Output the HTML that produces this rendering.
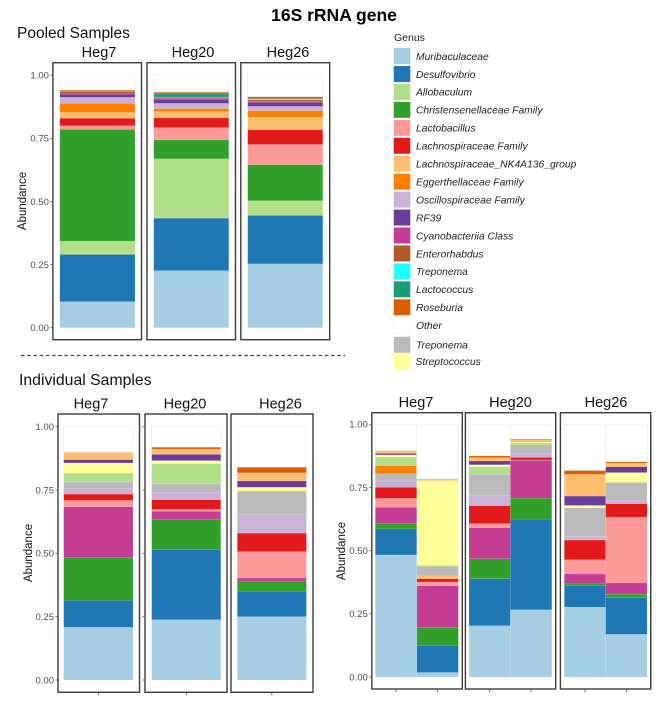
<!DOCTYPE html>
<html lang="en">
<head>
<meta charset="utf-8">
<title>16S rRNA gene</title>
<style>
html,body{margin:0;padding:0;background:#fff;}
svg{display:block;font-family:"Liberation Sans",Arial,sans-serif;filter:blur(0.3px);}
.strip{font-size:14.5px;fill:#111;text-anchor:middle;}
.heading{font-size:15.5px;fill:#111;}
.legend-label{font-size:10.3px;font-style:italic;fill:#222;}
.tick{font-size:9.5px;fill:#4d4d4d;text-anchor:end;}
.axis-title{font-size:11.5px;fill:#111;text-anchor:middle;}
</style>
</head>
<body>
<svg id="chart" xmlns="http://www.w3.org/2000/svg" width="669" height="701" viewBox="0 0 669 701">
  <rect x="0" y="0" width="669" height="701" fill="#fff"/>
  <text x="334" y="21" text-anchor="middle" font-size="17.5" font-weight="700" fill="#000">16S rRNA gene</text>
  <text class="heading" x="17" y="38">Pooled Samples</text>
  <text class="heading" x="19" y="385" style="font-size:15.8px">Individual Samples</text>
  <line x1="21" y1="355.5" x2="345" y2="355.5" stroke="#444" stroke-width="1.2" stroke-dasharray="3.6 2.6"/>
  <text class="axis-title" transform="translate(26,201) rotate(-90)">Abundance</text>
  <text class="axis-title" transform="translate(32,553) rotate(-90)">Abundance</text>
  <text class="axis-title" transform="translate(345,551) rotate(-90)">Abundance</text>
  <text x="394" y="41" font-size="10.5" fill="#222">Genus</text>
  <g id="legend"></g>
  <g id="plots"></g>
</svg>
<script>
const tickLabels = ['0.00', '0.25', '0.50', '0.75', '1.00'];
const tickValues = [0, 0.25, 0.5, 0.75, 1];

const legendGenera = ['Muribaculaceae', 'Desulfovibrio', 'Allobaculum', 'Christensenellaceae Family', 'Lactobacillus', 'Lachnospiraceae Family', 'Lachnospiraceae_NK4A136_group', 'Eggerthellaceae Family', 'Oscillospiraceae Family', 'RF39', 'Cyanobacteriia Class', 'Enterorhabdus', 'Treponema', 'Lactococcus', 'Roseburia', 'Other', 'Treponema', 'Streptococcus'];
const legendColors = ['#a6cee3', '#1f78b4', '#b2df8a', '#33a02c', '#fb9a99', '#e31a1c', '#fdbf6f', '#ff7f00', '#cab2d6', '#6a3d9a', '#c43c94', '#b15928', '#1effff', '#1b9e77', '#d95f02', '#ffffff', '#bababa', '#ffff99'];

const pooledOrder = ['#a6cee3', '#1f78b4', '#b2df8a', '#33a02c', '#fb9a99', '#e31a1c', '#fdbf6f', '#ff7f00', '#cab2d6', '#6a3d9a', '#c43c94', '#b15928', '#1effff', '#1b9e77', '#d95f02', '#ffffff'];
const sampleOrder = ['#a6cee3', '#1f78b4', '#33a02c', '#c43c94', '#fb9a99', '#e31a1c', '#fdbf6f', '#cab2d6', '#bababa', '#ff7f00', '#b2df8a', '#ffff99', '#6a3d9a', '#fdbf6f', '#d95f02', '#ffffff'];

const pooledHeg7 = [.103, .187, .053, .443, .014, .030, .023, .036, .024, .011, .004, .008, .001, .002, .004, .057];
const pooledHeg20 = [.226, .208, .235, .075, .049, .038, .025, .012, .021, .016, .004, .004, .001, .012, .008, .066];
const pooledHeg26 = [.253, .192, .058, .143, .080, .058, .050, .026, .017, .015, .004, .006, .004, .002, .008, .084];

const leftHeg7 = [.208, .106, .169, .201, .025, .025, 0, .023, .025, 0, .035, .040, .013, .030, 0, .100];
const leftHeg20 = [.238, .278, .118, .032, .008, .038, 0, .030, .033, 0, .079, .012, .025, .021, .008, .080];
const leftHeg26 = [.250, .101, .040, .012, .104, .073, 0, .073, .093, 0, 0, .015, .025, .032, .023, .159];

const rightHeg7a = [.483, .103, .021, .065, .035, .044, 0, .027, .027, .031, .035, .008, .006, .012, 0, .103];
const rightHeg7b = [.018, .107, .070, .166, .015, .013, .011, 0, .037, 0, .005, .335, 0, .008, 0, .215];
const rightHeg20a = [.203, .186, .079, .123, .016, .071, 0, .040, .084, 0, .030, .008, .015, .013, .008, .124];
const rightHeg20b = [.266, .359, .083, .150, .001, .010, 0, .014, .035, 0, .009, .004, .002, .005, .004, .058];
const rightHeg26a = [.277, .086, .007, .038, .056, .078, 0, .013, .114, 0, 0, .010, .037, .086, .016, .182];
const rightHeg26b = [.169, .145, .014, .044, .261, .053, 0, .013, .071, 0, 0, .039, .023, .014, .006, .148];

const plots = document.getElementById('plots');
const legend = document.getElementById('legend');
const NS = 'http://www.w3.org/2000/svg';

function mk(tag, attrs, parent) {
  const el = document.createElementNS(NS, tag);
  for (const k in attrs) el.setAttribute(k, attrs[k]);
  parent.appendChild(el);
  return el;
}

function drawPanel(cfg) {
  const g = mk('g', {}, plots);
  
  
  const yScale = function (v) { return cfg.y0 - v * (cfg.y0 - cfg.y1); };
  const barWidth = (cfg.barRight - cfg.barLeft) / cfg.bars.length;
  const xScale = function (i) { return cfg.barLeft + i * barWidth; };

  cfg.bars.forEach(function (values, b) {
    let cum = 0;
    values.forEach(function (v, s) {
      if (v <= 0) return;
      const fill = cfg.order[s];
      const isOther = fill === '#ffffff';
      const top = isOther ? 1 : cum + v;
      const rect = mk('rect', {
        x: xScale(b),
        y: yScale(top),
        width: barWidth,
        height: yScale(cum) - yScale(top),
        fill: fill,
        stroke: isOther ? '#eeeeee' : 'rgba(255,255,255,0.18)',
        'stroke-width': isOther ? 0.8 : 0.5
      }, g);
      
      
      cum += v;
    });
    if (cfg.xTicks) {
      const cx = xScale(b) + barWidth / 2;
      const xt = mk('line', { x1: cx, x2: cx, y1: cfg.bottom + 0.5, y2: cfg.bottom + 3, stroke: '#555', 'stroke-width': 0.8 }, g);
      
      
    }
  });

  const frame = mk('rect', {
    x: cfg.left,
    y: cfg.top,
    width: cfg.right - cfg.left,
    height: cfg.bottom - cfg.top,
    fill: 'none',
    stroke: '#3f3b3b',
    'stroke-width': 1.4
  }, g);
  
  

  const strip = mk('text', { x: cfg.stripX, y: cfg.top - 5.5, class: 'strip' }, g);
  strip.textContent = cfg.label;
  
  

  if (cfg.yTicks) {
    tickValues.forEach(function (tv, i) {
      const t = mk('line', { x1: cfg.left - 2.5, x2: cfg.left, y1: yScale(tv), y2: yScale(tv), stroke: '#555', 'stroke-width': 0.8 }, g);
      
      
      if (cfg.yLabels) {
        const lab = mk('text', { x: cfg.left - 4, y: yScale(tv) + 3.3, class: 'tick' }, g);
        lab.textContent = tickLabels[i];
        
        
      }
    });
  }
}

const pooledY = { y0: 327.7, y1: 75.3, top: 62.7, bottom: 339.7, order: pooledOrder };
const leftY = { y0: 680, y1: 426.7, top: 414, bottom: 692.3, order: sampleOrder, xTicks: true };
const rightY = { y0: 677, y1: 424.3, top: 412.7, bottom: 689, order: sampleOrder, xTicks: true };

drawPanel(Object.assign({}, pooledY, { id: 'pooled-heg7', label: 'Heg7', stripX: 99, left: 52.9, right: 141.5, barLeft: 59.8, barRight: 135, bars: [pooledHeg7], yTicks: true, yLabels: true }));
drawPanel(Object.assign({}, pooledY, { id: 'pooled-heg20', label: 'Heg20', stripX: 193, left: 147, right: 235.5, barLeft: 153.7, barRight: 228.8, bars: [pooledHeg20] }));
drawPanel(Object.assign({}, pooledY, { id: 'pooled-heg26', label: 'Heg26', stripX: 288, left: 240.8, right: 329.7, barLeft: 247.7, barRight: 322.8, bars: [pooledHeg26] }));

drawPanel(Object.assign({}, leftY, { id: 'left-heg7', label: 'Heg7', stripX: 91, left: 58, right: 139.5, barLeft: 63.7, barRight: 133, bars: [leftHeg7], yTicks: true, yLabels: true }));
drawPanel(Object.assign({}, leftY, { id: 'left-heg20', label: 'Heg20', stripX: 185, left: 145, right: 227, barLeft: 151.7, barRight: 220.8, bars: [leftHeg20], yTicks: true }));
drawPanel(Object.assign({}, leftY, { id: 'left-heg26', label: 'Heg26', stripX: 280.5, left: 231, right: 313, barLeft: 237.3, barRight: 306.4, bars: [leftHeg26] }));

drawPanel(Object.assign({}, rightY, { id: 'right-heg7', label: 'Heg7', stripX: 416, left: 371.8, right: 462.3, barLeft: 375.3, barRight: 458.4, bars: [rightHeg7a, rightHeg7b], yTicks: true, yLabels: true }));
drawPanel(Object.assign({}, rightY, { id: 'right-heg20', label: 'Heg20', stripX: 510.5, left: 465.4, right: 555.7, barLeft: 469, barRight: 551.8, bars: [rightHeg20a, rightHeg20b] }));
drawPanel(Object.assign({}, rightY, { id: 'right-heg26', label: 'Heg26', stripX: 606, left: 560.4, right: 650.7, barLeft: 564.3, barRight: 647.1, bars: [rightHeg26a, rightHeg26b] }));

legendGenera.forEach(function (name, i) {
  const cy = i < 16 ? 56 + i * 17.95 : (i === 16 ? 344.7 : 361.3);
  const sw = mk('rect', { x: 393.7, y: cy - 8, width: 16.6, height: 16, fill: legendColors[i], stroke: legendColors[i] === '#ffffff' ? '#f6f2f2' : 'none', 'stroke-width': 0.6 }, legend);
  
  
  const tx = mk('text', { x: i === 17 ? 415.5 : 416, y: cy + 3.8, class: 'legend-label' }, legend);
  tx.textContent = name;
  
  
});
</script>
</body>
</html>
